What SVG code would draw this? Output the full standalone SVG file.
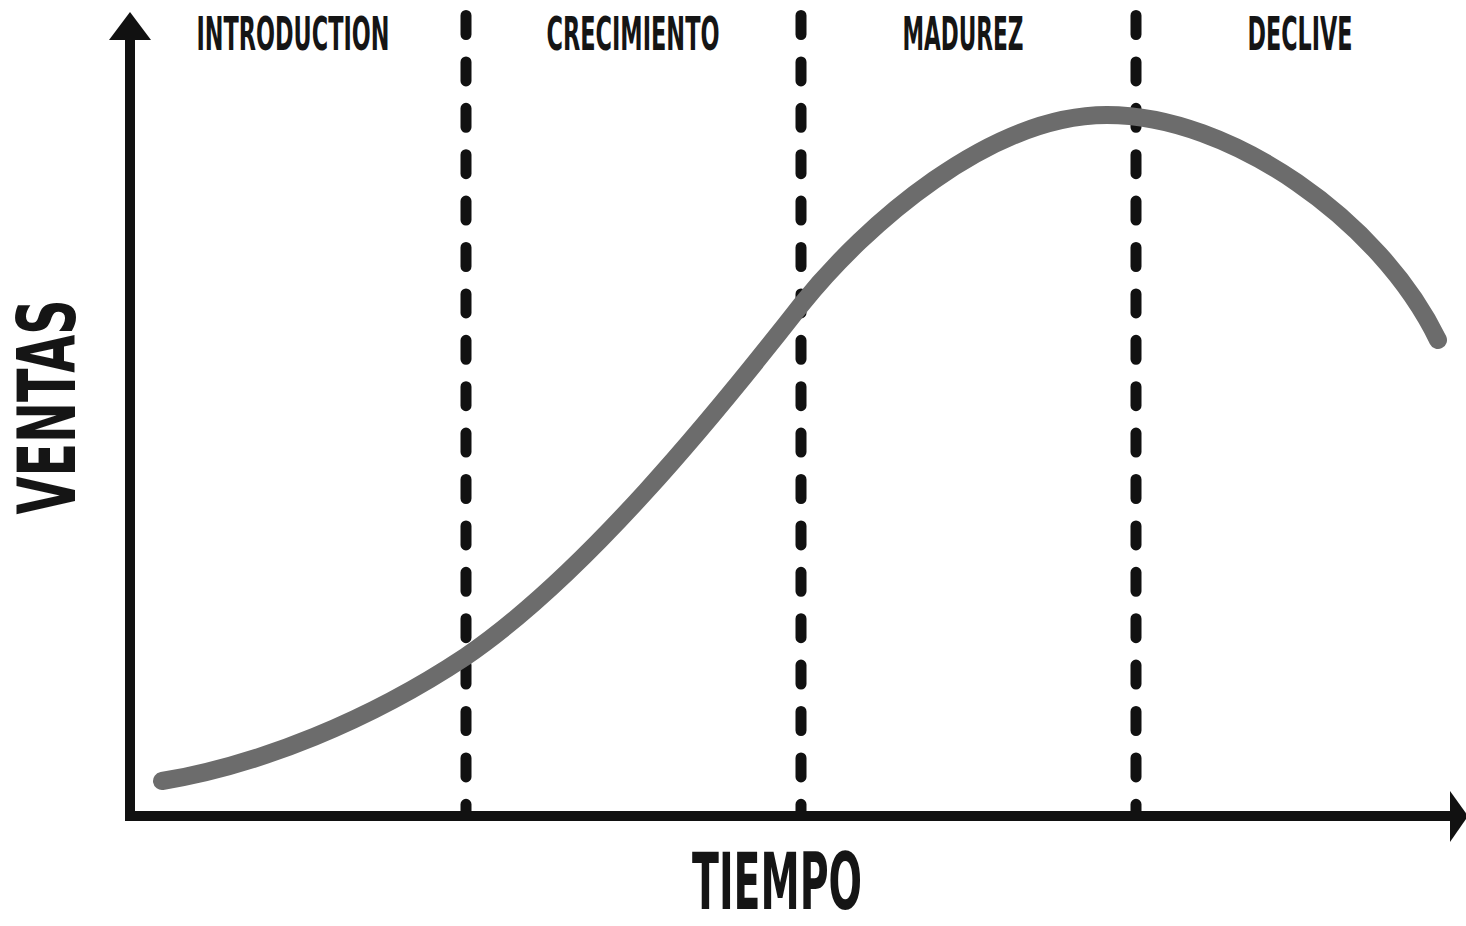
<svg xmlns="http://www.w3.org/2000/svg" width="1466" height="926" viewBox="0 0 1466 926">
  <style>
    .lbl { font-family: "Liberation Sans Narrow", "DejaVu Sans Condensed", "Liberation Sans", sans-serif; font-weight: bold; fill: #151515; text-anchor: middle; }
    .phase { font-size: 46px; }
    .vtitle { font-size: 80px; }
    .htitle { font-size: 78px; }
    .axis { stroke: #111; stroke-width: 10; fill: none; }
    .div { stroke: #111; stroke-width: 11; stroke-linecap: round; stroke-dasharray: 19 27.4; fill: none; }
    .curve { stroke: #6c6c6c; stroke-width: 18; stroke-linecap: round; fill: none; }
  </style>
  <rect width="1466" height="926" fill="#ffffff"/>

  <g id="dividers">
    <line class="div" x1="466" y1="15.5" x2="466" y2="812"/>
    <line class="div" x1="801" y1="15.5" x2="801" y2="812"/>
    <line class="div" x1="1136" y1="15.5" x2="1136" y2="812"/>
  </g>

  <g id="curve">
    <path class="curve" d="M162,781 C260,765 370,720 465,657 C585,575 715,415 801,305 C865,225 990,115 1107,115 C1230,115 1380,220 1438,340"/>
  </g>

  <g id="axes">
    <line class="axis" x1="130" y1="36" x2="130" y2="821"/>
    <polygon points="130,12 151,40 109,40" fill="#111"/>
    <line class="axis" x1="125" y1="816" x2="1454" y2="816"/>
    <polygon points="1450,791 1468,816 1450,842" fill="#111"/>
  </g>

  <g id="phase-labels">
    <text class="lbl phase" x="293" y="50" textLength="193" lengthAdjust="spacingAndGlyphs">INTRODUCTION</text>
    <text class="lbl phase" x="633" y="50" textLength="173" lengthAdjust="spacingAndGlyphs">CRECIMIENTO</text>
    <text class="lbl phase" x="963" y="50" textLength="121" lengthAdjust="spacingAndGlyphs">MADUREZ</text>
    <text class="lbl phase" x="1300" y="50" textLength="105" lengthAdjust="spacingAndGlyphs">DECLIVE</text>
  </g>

  <g id="axis-titles">
    <text class="lbl vtitle" transform="translate(75,407) rotate(-90)" x="0" y="0" textLength="215" lengthAdjust="spacingAndGlyphs">VENTAS</text>
    <text class="lbl htitle" x="777" y="909" textLength="170" lengthAdjust="spacingAndGlyphs">TIEMPO</text>
  </g>
</svg>
